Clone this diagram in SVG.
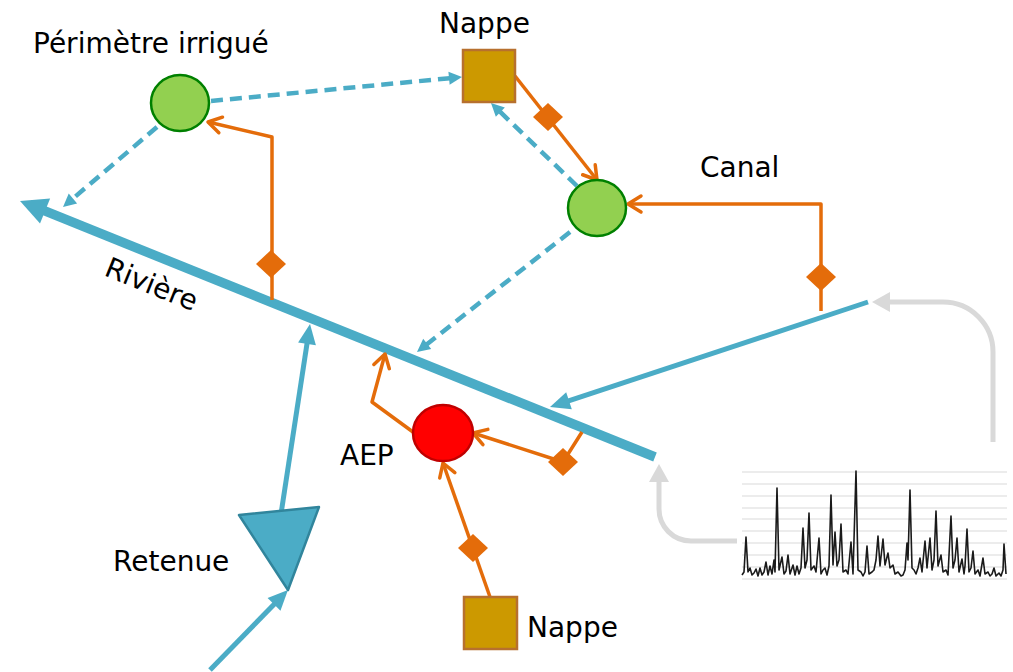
<svg xmlns="http://www.w3.org/2000/svg" width="1013" height="672" viewBox="0 0 1013 672">
<style>
text{font-family:"DejaVu Sans",sans-serif;font-size:28px;fill:#000}
.blue{stroke:#4BACC6;fill:none}
.dash{stroke:#4BACC6;stroke-width:4.5;fill:none;stroke-dasharray:12 7}
.orange{stroke:#E46C0A;stroke-width:3.5;fill:none;stroke-linejoin:round}
.gray{stroke:#D9D9D9;stroke-width:5;fill:none}
.circG{fill:#92D050;stroke:#008000;stroke-width:2.5}
.nappe{fill:#CC9900;stroke:#B7702E;stroke-width:2.5}
.grid{stroke:#D9D9D9;stroke-width:1}
.dia{fill:#E46C0A}
</style>
<defs>
<marker id="aRiver" markerUnits="userSpaceOnUse" markerWidth="30" markerHeight="30" refX="17" refY="13.5" orient="auto" overflow="visible"><path d="M0,0 L27,13.5 L0,27 z" fill="#4BACC6"/></marker>
<marker id="aBlue" markerUnits="userSpaceOnUse" markerWidth="22" markerHeight="22" refX="10" refY="9" orient="auto" overflow="visible"><path d="M0,0 L20,9 L0,18 z" fill="#4BACC6"/></marker>
<marker id="aDash" markerUnits="userSpaceOnUse" markerWidth="16" markerHeight="16" refX="7" refY="6.5" orient="auto" overflow="visible"><path d="M0,0 L13,6.5 L0,13 z" fill="#4BACC6"/></marker>
<marker id="aOr" markerUnits="userSpaceOnUse" markerWidth="20" markerHeight="20" refX="14" refY="8.5" orient="auto" overflow="visible"><path d="M1,0.5 L14,8.5 L1,16.5" fill="none" stroke="#E46C0A" stroke-width="3.5" stroke-linecap="round" stroke-linejoin="round"/></marker>
<marker id="aGray" markerUnits="userSpaceOnUse" markerWidth="22" markerHeight="22" refX="8" refY="10" orient="auto" overflow="visible"><path d="M0,0 L18,10 L0,20 z" fill="#D9D9D9"/></marker>
<path id="diamond" d="M0,-14 L15,0 L0,14 L-15,0 z"/>
</defs>

<g id="hydrogramme">
<g class="grid">
<line x1="742" y1="472" x2="1007" y2="472"/>
<line x1="742" y1="484" x2="1007" y2="484"/>
<line x1="742" y1="496" x2="1007" y2="496"/>
<line x1="742" y1="508" x2="1007" y2="508"/>
<line x1="742" y1="519" x2="1007" y2="519"/>
<line x1="742" y1="531" x2="1007" y2="531"/>
<line x1="742" y1="543" x2="1007" y2="543"/>
<line x1="742" y1="555" x2="1007" y2="555"/>
<line x1="742" y1="567" x2="1007" y2="567"/>
<line x1="742" y1="579" x2="1007" y2="579"/>
</g>
<polyline fill="none" stroke="#1a1a1a" stroke-width="1.6" stroke-linejoin="round" points="742,575 744,572 746,537 748,572 750,568 752,575 754,573 756,569 758,576 760,568 762,575 764,572 766,562 768,575 770,566 772,574 774,560 775,572 777,488 779,570 782,557 784,574 786,571 788,555 790,574 793,565 795,575 797,566 799,574 801,568 803,528 805,568 807,560 809,513 811,570 814,566 816,572 819,538 821,574 823,570 825,568 827,575 829,566 831,495 833,565 835,532 837,566 839,560 841,524 843,572 846,570 848,574 851,542 853,574 856,471 858,570 861,572 863,576 865,572 867,546 869,574 872,572 874,570 876,560 878,536 880,566 883,539 885,565 888,553 890,568 893,565 895,574 898,572 901,576 903,575 905,570 907,543 908,560 910,490 912,568 914,570 916,574 918,568 920,558 922,572 925,541 927,568 930,538 932,570 934,560 936,511 938,566 941,555 943,572 946,570 948,575 951,516 953,568 955,560 957,538 959,572 962,559 964,574 965,566 967,529 969,572 971,568 973,551 975,574 978,570 980,576 983,558 985,574 988,572 990,576 992,574 994,568 996,576 999,573 1001,576 1003,570 1004,544 1006,574"/>
</g>

<g id="riviere">
<line class="blue" stroke-width="9.5" x1="655" y1="457" x2="29.3" y2="204.7" marker-end="url(#aRiver)"/>
<text x="103" y="275" transform="rotate(22 103 275)">Rivière</text>
</g>

<g id="connectors">
<line class="blue" stroke-width="5" x1="868" y1="302" x2="559.5" y2="403.9" marker-end="url(#aBlue)"/>
<line class="blue" stroke-width="5" x1="281" y1="514" x2="308.5" y2="333.9" marker-end="url(#aBlue)"/>
<line class="blue" stroke-width="5" x1="210" y1="670" x2="281" y2="597.2" marker-end="url(#aBlue)"/>
<line class="dash" x1="211" y1="101" x2="456" y2="77.6" marker-end="url(#aDash)"/>
<line class="dash" x1="157" y1="127" x2="67.6" y2="203.1" marker-end="url(#aDash)"/>
<line class="dash" x1="577" y1="186" x2="495.3" y2="107.2" marker-end="url(#aDash)"/>
<line class="dash" x1="570" y1="232" x2="421.7" y2="348.3" marker-end="url(#aDash)"/>
<path class="orange" d="M272,300 L272,137 L208,122" marker-end="url(#aOr)"/>
<path class="orange" d="M515,76 L597,180" marker-end="url(#aOr)"/>
<path class="orange" d="M821,311 L821,204 L628,204" marker-end="url(#aOr)"/>
<path class="orange" d="M582,432 L563,462 L473,433" marker-end="url(#aOr)"/>
<path class="orange" d="M413,432 L372,402 L385,354" marker-end="url(#aOr)"/>
<path class="orange" d="M490,597 L443,463" marker-end="url(#aOr)"/>
<use href="#diamond" class="dia" x="271" y="264"/>
<use href="#diamond" class="dia" x="548" y="117"/>
<use href="#diamond" class="dia" x="821" y="277"/>
<use href="#diamond" class="dia" x="563" y="462"/>
<use href="#diamond" class="dia" x="473" y="548"/>
<path class="gray" d="M993,442 L993,352 A50,50 0 0 0 943,302 L882,302" marker-end="url(#aGray)"/>
<path class="gray" d="M737,541 L691,541 A32,32 0 0 1 659,509 L659,474" marker-end="url(#aGray)"/>
</g>

<g id="perimetre">
<ellipse class="circG" cx="180" cy="103" rx="29" ry="28"/>
<text x="33" y="53">Périmètre irrigué</text>
</g>

<g id="nappe-haut">
<rect class="nappe" x="463" y="50" width="52" height="52"/>
<text x="439" y="33">Nappe</text>
</g>

<g id="canal">
<ellipse class="circG" cx="597" cy="208" rx="29" ry="28"/>
<text x="700" y="177">Canal</text>
</g>

<g id="aep">
<ellipse cx="443" cy="433" rx="30" ry="28" fill="#FF0000" stroke="#C00000" stroke-width="2.5"/>
<text x="340" y="465">AEP</text>
</g>

<g id="retenue">
<polygon points="239,515 319,507 288,590" fill="#4BACC6" stroke="#31859C" stroke-width="2.5" stroke-linejoin="round"/>
<text x="113" y="571">Retenue</text>
</g>

<g id="nappe-bas">
<rect class="nappe" x="464" y="597" width="53" height="52"/>
<text x="527" y="637">Nappe</text>
</g>
</svg>
